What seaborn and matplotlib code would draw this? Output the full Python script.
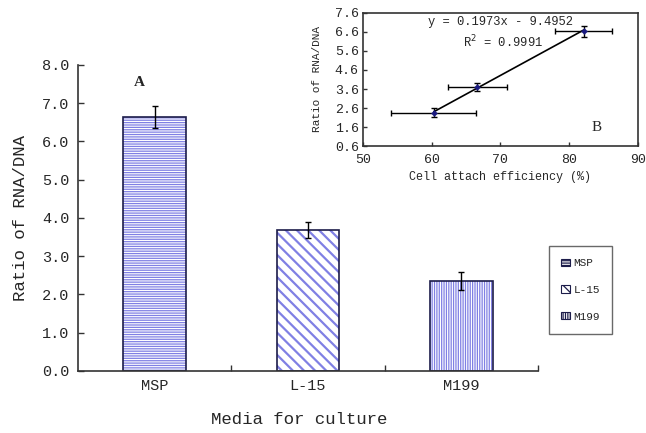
import matplotlib
matplotlib.use("Agg")
import matplotlib.pyplot as plt
import matplotlib.ticker as mticker
from matplotlib.patches import Patch
import seaborn as sns
import numpy as np

# data (same order as media)
media = ["MSP", "L-15", "M199"]
ratio = [6.64, 3.69, 2.35]
ratio_err = [0.29, 0.21, 0.24]
hatches = ["-------", "\\\\\\", "|||||||"]

attach_eff = [82.1, 66.6, 60.3]
attach_err = [4.1, 4.3, 6.2]
slope, intercept = 0.1973, -9.4952
r2 = 0.9991

hatch_col = "#8080e4"
edge_col = "#1c1c4a"

sns.set_style("white")
plt.rcParams["font.family"] = ["Liberation Mono", "DejaVu Sans Mono"]
plt.rcParams["hatch.linewidth"] = 0.9

fig = plt.figure(figsize=(6.46, 4.33), dpi=100)
ax = fig.add_axes([0.1207, 0.1432, 0.7121, 0.7067])

# hatched bars, then outline on top
sns.barplot(x=media, y=ratio, color="white", width=0.41, ax=ax)
for p, h in zip(ax.patches, hatches):
    p.set_hatch(h)
    p.set_edgecolor(hatch_col)
    p.set_linewidth(0)
    if h.startswith("\\") and hasattr(p, "set_hatch_linewidth"):
        p.set_hatch_linewidth(1.6)
sns.barplot(x=media, y=ratio, color=edge_col, fill=False, width=0.41,
            linewidth=1.2, ax=ax)
ax.errorbar(np.arange(len(media)), ratio, yerr=ratio_err, fmt="none",
            ecolor="black", elinewidth=1, capsize=2.5, capthick=1)

ax.set_ylim(0, 8)
ax.set_xlim(-0.5, 2.5)
ax.yaxis.set_major_locator(mticker.MultipleLocator(1))
ax.yaxis.set_major_formatter(mticker.FormatStrFormatter("%.1f"))
ax.xaxis.set_minor_locator(mticker.FixedLocator([0.5, 1.5, 2.5]))
ax.tick_params(axis="x", which="major", length=0, labelsize=11, pad=6)
ax.tick_params(axis="x", which="minor", direction="in", length=4, width=1,
               bottom=True, color="#333333")
ax.tick_params(axis="y", direction="in", length=4, width=1, left=True,
               labelsize=11, pad=6, color="#333333")
for s in ["top", "right"]:
    ax.spines[s].set_visible(False)
for s in ["left", "bottom"]:
    ax.spines[s].set_color("#333333")
    ax.spines[s].set_linewidth(1.2)
ax.set_ylabel("Ratio of RNA/DNA", fontsize=12.5)
ax.set_xlabel("Media for culture", fontsize=12.5)
ax.yaxis.set_label_coords(-0.108, 0.5)
ax.xaxis.set_label_coords(0.48, -0.135)
ax.text(-0.1, 7.55, "A", fontsize=11, family="Liberation Serif",
        fontweight="bold", ha="center", va="center")

# legend
handles = [Patch(facecolor="white", edgecolor=edge_col, hatch=h, linewidth=0.8)
           for h in hatches]
leg = fig.legend(handles, media, loc="upper left",
                 bbox_to_anchor=(549 / 646, 1 - 246 / 433),
                 fontsize=8, handlelength=0.8, handleheight=0.6,
                 handletextpad=0.3, labelspacing=1.5, borderpad=1.1,
                 borderaxespad=0, fancybox=False, frameon=True)
leg.get_frame().set_edgecolor("#444444")
leg.get_frame().set_linewidth(1.0)

# inset B
ins = fig.add_axes([0.5619, 0.6628, 0.4257, 0.3072])
ins.errorbar(attach_eff, ratio, xerr=attach_err, yerr=ratio_err, fmt="none",
             ecolor="black", elinewidth=1, capsize=2, capthick=1)
xfit = np.array([min(attach_eff), max(attach_eff)])
sns.lineplot(x=xfit, y=slope * xfit + intercept, color="black", linewidth=1.2,
             ax=ins)
sns.scatterplot(x=attach_eff, y=ratio, marker="D", s=10,
                color="#1a1a80", edgecolor="#1a1a80", ax=ins, zorder=5)
ins.set_xlim(50, 90)
ins.set_ylim(0.6, 7.6)
ins.xaxis.set_major_locator(mticker.MultipleLocator(10))
ins.yaxis.set_major_locator(mticker.FixedLocator(np.arange(0.6, 7.7, 1.0)))
ins.yaxis.set_major_formatter(mticker.FormatStrFormatter("%.1f"))
ins.tick_params(direction="in", length=3, width=1, labelsize=9.5, pad=3,
                left=True, bottom=True, color="#333333")
ins.tick_params(axis="x", pad=6)
for s in ins.spines.values():
    s.set_color("#333333")
    s.set_linewidth(1.2)
ins.set_xlabel("Cell attach efficiency (%)", fontsize=8.5, labelpad=3)
ins.set_ylabel("Ratio of RNA/DNA", fontsize=8)
ins.yaxis.set_label_coords(-0.15, 0.5)
ins.text(0.5, 0.93, f"y = {slope}x - {abs(intercept)}", transform=ins.transAxes,
         fontsize=8.7, ha="center", va="center")
ins.text(0.51, 0.78, f"R$^2$ = {r2}", transform=ins.transAxes,
         fontsize=8.7, ha="center", va="center")
ins.text(0.85, 0.14, "B", transform=ins.transAxes, fontsize=11,
         family="Liberation Serif", ha="center", va="center")

fig.savefig("out.png", dpi=100, facecolor="white")
